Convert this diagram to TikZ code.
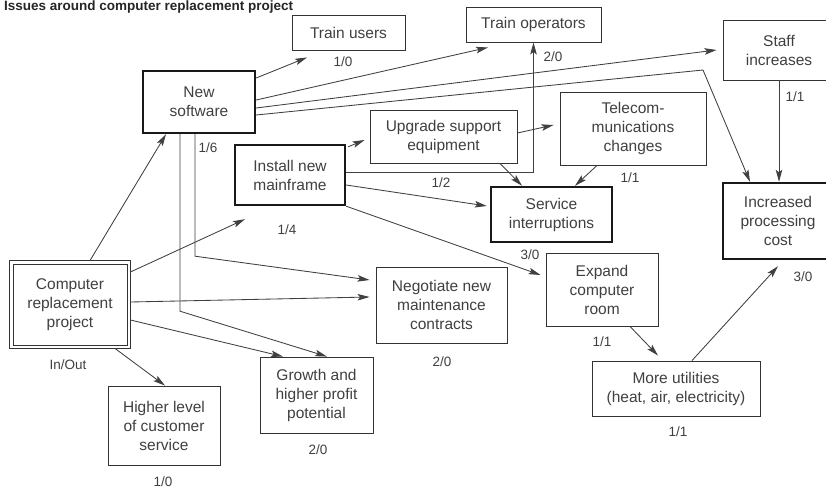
\documentclass[tikz,border=0pt]{standalone}
\usepackage{fontspec}
\setmainfont{Liberation Sans}
\usetikzlibrary{arrows.meta,calc}

\tikzset{
  box/.style={draw=black!80, line width=0.9pt, fill=white, align=center,
    inner sep=2pt, text=black!75, font=\fontsize{15.5}{19}\selectfont},
  boldbox/.style={box, line width=2.4pt, draw=black!90},
  outerframe/.style={draw=black!80, line width=0.9pt},
  count/.style={text=black!75, font=\fontsize{13.5}{16}\selectfont, inner sep=0pt},
  conn/.style={draw=black!75, line width=0.85pt,
    -{Stealth[length=12pt,width=6.5pt,inset=2.5pt]}}
}

\begin{document}
\begin{tikzpicture}[x=1pt,y=-1pt]
\useasboundingbox[fill=white] (0,0) rectangle (826,489);

% heading
\node[anchor=base west, inner sep=0pt, text=black!85,
      font=\bfseries\fontsize{13.5}{16}\selectfont] (title) at (4,11)
      {Issues around computer replacement project};

% issue boxes
\node[box, minimum width=113pt, minimum height=35pt] (tu) at (348.5,32.5) {Train users};
\node[box, minimum width=135pt, minimum height=35pt] (to) at (533.5,24.5) {Train operators};
\node[box, minimum width=112pt, minimum height=60pt] (si) at (779,50) {Staff\\increases};
\node[boldbox, minimum width=112pt, minimum height=62pt] (ns) at (199,102) {New\\software};
\node[box, minimum width=147pt, minimum height=53pt] (us) at (443.5,136.5) {Upgrade support\\equipment};
\node[box, minimum width=146pt, minimum height=73pt] (tc) at (633,128.5) {Telecom-\\munications\\changes};
\node[boldbox, minimum width=110pt, minimum height=60pt] (im) at (290,175) {Install new\\mainframe};
\node[boldbox, minimum width=121pt, minimum height=55pt] (sv) at (551.5,214.5) {Service\\interruptions};
\node[boldbox, minimum width=110pt, minimum height=76pt] (ipc) at (778,221) {Increased\\processing\\cost};
\node[box, minimum width=114pt, minimum height=81pt] (crp) at (70,304.5) {Computer\\replacement\\project};
% second frame round the project box
\draw[outerframe] ([xshift=-3pt,yshift=3pt]crp.north west) rectangle ([xshift=3pt,yshift=-3pt]crp.south east);
\node[box, minimum width=131pt, minimum height=76pt] (neg) at (441.5,305) {Negotiate new\\maintenance\\contracts};
\node[box, minimum width=112pt, minimum height=73pt] (exp) at (602,289.5) {Expand\\computer\\room};
\node[box, minimum width=168pt, minimum height=55pt] (mu) at (676,388.5) {More utilities\\(heat, air, electricity)};
\node[box, minimum width=113pt, minimum height=76pt] (gr) at (316.5,395) {Growth and\\higher profit\\potential};
\node[box, minimum width=112pt, minimum height=79pt] (hl) at (164,425.5) {Higher level\\of customer\\service};

% in/out counts
\node[count] (ctu)  at (343,62)  {1/0};
\node[count] (cto)  at (553,57)  {2/0};
\node[count] (csi)  at (795,97)  {1/1};
\node[count] (cns)  at (208,148) {1/6};
\node[count] (cus)  at (441,183) {1/2};
\node[count] (ctc)  at (630,178) {1/1};
\node[count] (cim)  at (287,230) {1/4};
\node[count] (csv)  at (530,255) {3/0};
\node[count] (cipc) at (803,277) {3/0};
\node[count] (ccrp) at (68,365)  {In/Out};
\node[count] (cneg) at (442,362) {2/0};
\node[count] (cexp) at (602,342) {1/1};
\node[count] (cmu)  at (678,432) {1/1};
\node[count] (cgr)  at (318,450) {2/0};
\node[count] (chl)  at (163,482) {1/0};

% connectors from the project box
\draw[conn] ([xshift=20pt,yshift=3pt]crp.north) -- ([xshift=-33pt]ns.south);
\draw[conn] ([xshift=3pt,yshift=32.5pt]crp.east) -- ([xshift=-45pt,yshift=-13pt]im.south);
\draw[conn] ([xshift=3pt,yshift=2.5pt]crp.east) -- ([xshift=-6pt,yshift=8pt]neg.west);
\draw[conn] ([xshift=3pt,yshift=-15.5pt]crp.east) -- ([xshift=-33.5pt]gr.north);
\draw[conn] ([xshift=45pt,yshift=-3pt]crp.south) -- ([xshift=1pt]hl.north);

% connectors from new software
\draw[conn] ([yshift=24pt]ns.east) -- ([xshift=-41.5pt,yshift=-7pt]tu.south);
\draw[conn] ([yshift=2pt]ns.east) -- ([xshift=-45.5pt,yshift=-5pt]to.south);
\draw[conn] ([yshift=-6pt]ns.east) -- ([xshift=-6pt]si.west);
\coordinate (bend) at (703,70);
\draw[conn] ([yshift=-13pt]ns.east) -- (bend) -- ([xshift=-28pt]ipc.north);
\draw[conn] ([xshift=-4pt]ns.south) -- ++(0,122) -- ([xshift=-6pt,yshift=25pt]neg.west);
\draw[conn] ([xshift=-19pt]ns.south) -- ++(0,177) -- ([xshift=10.5pt]gr.north);

% connectors from the mainframe
\draw[conn] ([xshift=2pt,yshift=-3pt]im.north east) -- ([xshift=-5pt,yshift=-3.5pt]us.west);
\draw[conn] ([yshift=3pt]im.east) -| (to.south);
\draw[conn] ([yshift=-10pt]im.east) -- ([xshift=-3pt,yshift=8.5pt]sv.west);
\draw[conn] (im.south east) -- ([xshift=-5pt,yshift=14.5pt]exp.west);

% support equipment and telecom
\draw[conn] ([yshift=3.5pt]us.east) -- ([xshift=-6pt,yshift=3.5pt]tc.west);
\draw[conn] ([xshift=56.5pt]us.south) -- ([xshift=-29.5pt]sv.north);
\draw[conn] ([xshift=-36pt]tc.south) -- ([xshift=23.5pt]sv.north);

% cost side
\draw[conn] (si.south) -- (si.south |- ipc.north);
\draw[conn] ([xshift=28pt]exp.south) -- ([xshift=-18pt,yshift=5pt]mu.north);
\draw[conn] ([xshift=16pt]mu.north) -- ([yshift=-6pt]ipc.south);
\end{tikzpicture}
\end{document}
